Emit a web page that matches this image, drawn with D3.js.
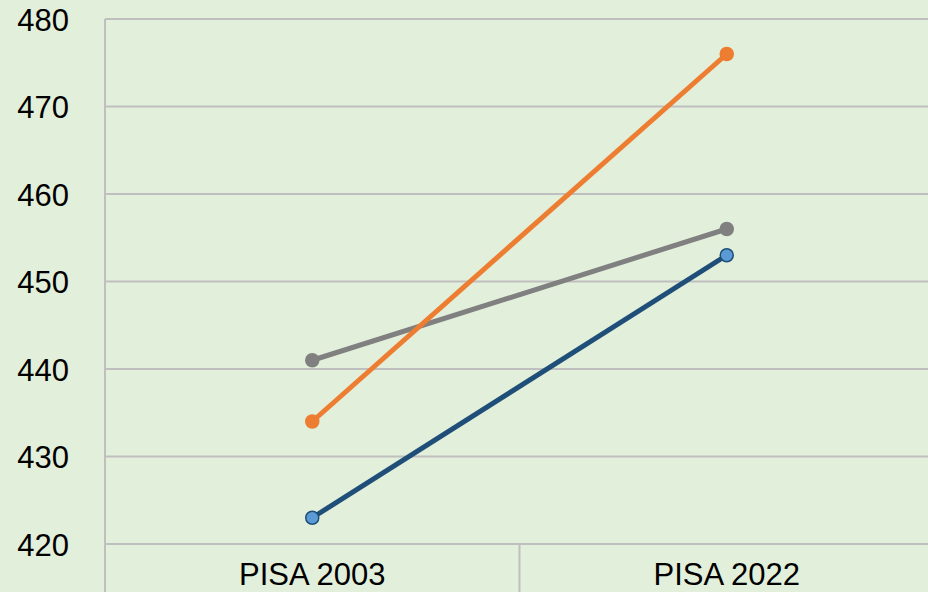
<!DOCTYPE html>
<html>
<head>
<meta charset="utf-8">
<script src="https://cdn.jsdelivr.net/npm/d3@7"></script>
<style>
    body { margin: 0; background: #E2EFDA; }
    svg { display: block; }
</style>
</head>
<body>
<svg id="Chart"></svg>
<script>
'use strict';

let categories = ["PISA 2003", "PISA 2022"];
let yTicks = [420, 430, 440, 450, 460, 470, 480];

let seriesNames = ["gray", "orange", "blue"];
let grayValues = [441, 456];
let orangeValues = [434, 476];
let blueValues = [423, 453];

function getChartConfig() {
    let margin = { top: 19, right: -6, bottom: 48, left: 105 },
        width = 928 - margin.left - margin.right,
        height = 592 - margin.top - margin.bottom;

    let svg = d3.select("#Chart")
        .attr("width", 928)
        .attr("height", 592);

    svg.append("rect")
        .attr("width", 928)
        .attr("height", 592)
        .attr("fill", "#E2EFDA");

    let container = svg.append("g")
        .attr("transform", "translate(" + margin.left + "," + margin.top + ")");

    return { width, height, container, margin }
}

function getScales(config) {
    let { width, height } = config;

    let xBand = d3.scaleBand()
        .domain(categories)
        .range([0, width]);

    let yScale = d3.scaleLinear()
        .domain([420, 480])
        .range([height, 0]);

    return { xBand, yScale }
}

function drawGrid(config, scales) {
    let { container, width } = config;
    let { yScale } = scales;

    yTicks.forEach(t => {
        container.append("line")
            .style("stroke", "#BFBFBF")
            .style("stroke-width", 2)
            .attr("x1", 0)
            .attr("x2", width)
            .attr("y1", yScale(t))
            .attr("y2", yScale(t));
    });
}

function drawAxis(config, scales) {
    let { container, height, margin } = config;
    let { xBand, yScale } = scales;

    // left axis line runs down past the plot
    container.append("line")
        .style("stroke", "#BFBFBF")
        .style("stroke-width", 2)
        .attr("x1", 0).attr("x2", 0)
        .attr("y1", 0).attr("y2", height + margin.bottom);

    // category dividers
    categories.forEach(c => {
        let x = xBand(c) + xBand.bandwidth();
        container.append("line")
            .style("stroke", "#BFBFBF")
            .style("stroke-width", 2)
            .attr("x1", x).attr("x2", x)
            .attr("y1", height).attr("y2", height + margin.bottom);
    });

    let yAxis = d3.axisLeft(yScale).tickValues(yTicks).tickSize(0).tickPadding(36);
    let yG = container.append("g")
        .attr("class", "y axis")
        .call(yAxis);
    yG.select(".domain").remove();
    yG.selectAll("text")
        .style("font-family", "Liberation Sans, Arial, sans-serif")
        .style("font-size", "31px")
        .attr("fill", "#000")
        .attr("dy", "0.36em");

    let xAxis = d3.axisBottom(xBand).tickSize(0).tickPadding(0);
    let xG = container.append("g")
        .attr("class", "x axis")
        .attr("transform", "translate(0," + height + ")")
        .call(xAxis);
    xG.select(".domain").remove();
    xG.selectAll("text")
        .style("font-family", "Liberation Sans, Arial, sans-serif")
        .style("font-size", "31px")
        .attr("fill", "#000")
        .attr("y", 41)
        .attr("dy", 0);
}

function drawLines(config, scales) {
    let { container } = config;
    let { xBand, yScale } = scales;

    let series = [
        { name: seriesNames[0], values: grayValues, stroke: "#808080", fill: "#808080", ring: "#808080" },
        { name: seriesNames[1], values: orangeValues, stroke: "#ED7D31", fill: "#ED7D31", ring: "#ED7D31" },
        { name: seriesNames[2], values: blueValues, stroke: "#1F4E79", fill: "#5B9BD5", ring: "#1F4E79" }
    ];

    let xPos = (i) => xBand(categories[i]) + xBand.bandwidth() / 2;

    let line = d3.line()
        .x((d, i) => xPos(i))
        .y(d => yScale(d));

    series.forEach(s => {
        container.append("path")
            .datum(s.values)
            .attr("fill", "none")
            .attr("stroke", s.stroke)
            .attr("stroke-width", 5)
            .attr("d", line);

        container.selectAll(".dot-" + s.name)
            .data(s.values)
            .enter()
            .append("circle")
            .attr("class", "dot-" + s.name)
            .attr("cx", (d, i) => xPos(i))
            .attr("cy", d => yScale(d))
            .attr("r", 6.5)
            .attr("fill", s.fill)
            .attr("stroke", s.ring)
            .attr("stroke-width", 1.5);
    });
}

function drawChart() {
    let config = getChartConfig();
    let scales = getScales(config);
    drawGrid(config, scales);
    drawAxis(config, scales);
    drawLines(config, scales);
}

drawChart();
</script>
</body>
</html>
